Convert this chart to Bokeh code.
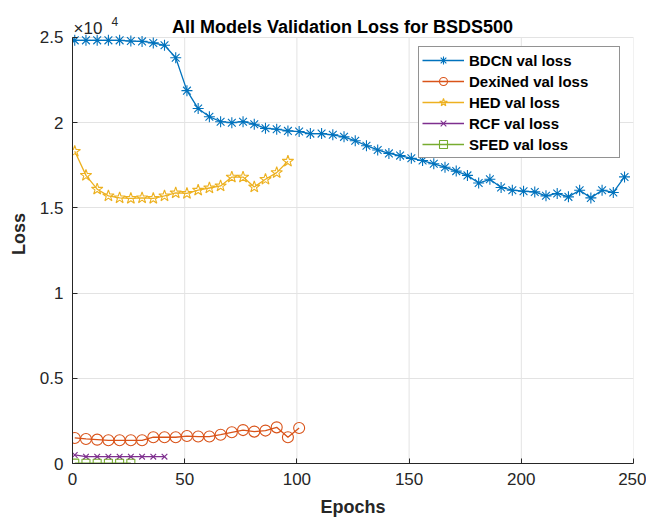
from bokeh.plotting import figure
from bokeh.models import Range1d, FixedTicker, Label, CustomJSTickFormatter
from bokeh.embed import file_html
from bokeh.resources import INLINE

# ---------------- data ----------------
bdcn_epochs = [1, 6, 11, 16, 21, 26, 31, 36, 41, 46, 51, 56, 61, 66, 71, 76, 81, 86, 91, 96,
               101, 106, 111, 116, 121, 126, 131, 136, 141, 146, 151, 156, 161, 166, 171, 176,
               181, 186, 191, 196, 201, 206, 211, 216, 221, 226, 231, 236, 241, 246]
bdcn_loss = [24820, 24820, 24820, 24820, 24820, 24780, 24760, 24670, 24530, 23800,
             21870, 20820, 20340, 20050, 19990, 20050, 19900, 19660, 19610, 19510,
             19470, 19350, 19350, 19280, 19160, 18930, 18640, 18390, 18190, 18060,
             17900, 17770, 17580, 17380, 17150, 16900, 16450, 16670, 16190, 16030,
             15970, 15930, 15700, 15840, 15640, 16030, 15580, 16030, 15900, 16810]

dexined_epochs = [1, 6, 11, 16, 21, 26, 31, 36, 41, 46, 51, 56, 61, 66, 71, 76, 81, 86, 91, 96, 101]
dexined_loss = [1500, 1440, 1400, 1360, 1360, 1360, 1360, 1540, 1540, 1540,
                1610, 1580, 1580, 1690, 1830, 1960, 1870, 1930, 2120, 1540, 2080]

hed_epochs = [1, 6, 11, 16, 21, 26, 31, 36, 41, 46, 51, 56, 61, 66, 71, 76, 81, 86, 91, 96]
hed_loss = [18310, 16900, 16090, 15700, 15580, 15550, 15580, 15550, 15700, 15870,
            15840, 16030, 16160, 16280, 16800, 16800, 16220, 16670, 17060, 17730]

rcf_epochs = [1, 6, 11, 16, 21, 26, 31, 36, 41]
rcf_loss = [500, 400, 400, 400, 400, 400, 400, 400, 400]

sfed_epochs = [1, 6, 11, 16, 21, 26]
sfed_loss = [20, 15, 15, 15, 15, 15]

x_ticks = [0, 50, 100, 150, 200, 250]
y_ticks = [0, 5000, 10000, 15000, 20000, 25000]
y_max = 25000

title_text = "All Models Validation Loss for BSDS500"
x_label = "Epochs"
y_label = "Loss"
exp_base = "\u00d710"
exp_power = "4"

# ---------------- layout / styling ----------------
FONT = "Liberation Sans"
AX = "#262626"
GRID = "#e3e3e3"
colors = {"BDCN": "#0072BD", "DexiNed": "#D95319", "HED": "#EDB120",
          "RCF": "#7E2F8E", "SFED": "#77AC30"}

W, H = 646, 519
TOP, BOTTOM, LEFT, RIGHT = 4, 53, 72, 13
frame_bottom = H - BOTTOM
axis_top_px = 37  # where 2.5e4 sits on the page
# extend the frame upward so the title and the exponent can be drawn inside it
y_end = y_max * (frame_bottom - TOP) / (frame_bottom - axis_top_px)

p = figure(width=W, height=H, title=None,
           x_range=Range1d(0, 250), y_range=Range1d(0, y_end),
           output_backend="svg", toolbar_location=None,
           min_border_left=LEFT, min_border_right=RIGHT,
           min_border_top=TOP, min_border_bottom=BOTTOM)

p.outline_line_color = None
p.background_fill_color = "white"
p.border_fill_color = "white"

for ax in (p.xaxis[0], p.yaxis[0]):
    ax.axis_line_color = AX
    ax.axis_line_width = 1
    ax.major_tick_line_color = AX
    ax.major_tick_in = 5
    ax.major_tick_out = 0
    ax.minor_tick_line_color = None
    ax.major_label_text_font = FONT
    ax.major_label_text_font_size = "17px"
    ax.major_label_text_color = AX
    ax.axis_label_text_font = FONT
    ax.axis_label_text_font_size = "18px"
    ax.axis_label_text_font_style = "bold"
    ax.axis_label_text_color = AX

p.xaxis.ticker = FixedTicker(ticks=x_ticks)
p.yaxis.ticker = FixedTicker(ticks=y_ticks)
p.yaxis.bounds = (0, y_max)
p.yaxis.formatter = CustomJSTickFormatter(code="return (tick/10000).toString();")
p.xaxis.axis_label = x_label
p.yaxis.axis_label = y_label
p.xaxis.major_label_standoff = 9
p.yaxis.major_label_standoff = 9
p.xaxis.axis_label_standoff = 9
p.yaxis.axis_label_standoff = 8

# horizontal grid from the Grid model; vertical grid drawn only up to 2.5e4
p.ygrid.grid_line_color = GRID
p.ygrid.ticker = FixedTicker(ticks=y_ticks)
p.xgrid.grid_line_color = None
p.segment(x0=x_ticks, y0=[0] * len(x_ticks), x1=x_ticks, y1=[y_max] * len(x_ticks),
          line_color=GRID, line_width=1, level="underlay")

series = [
    ("BDCN", bdcn_epochs, bdcn_loss, "asterisk", 11),
    ("DexiNed", dexined_epochs, dexined_loss, "circle", 11),
    ("HED", hed_epochs, hed_loss, "star", 12),
    ("RCF", rcf_epochs, rcf_loss, "x", 8),
    ("SFED", sfed_epochs, sfed_loss, "square", 8),
]
for name, xs, ys, marker, size in series:
    lbl = name + " val loss"
    c = colors[name]
    p.line(xs, ys, line_color=c, line_width=1.3, legend_label=lbl)
    p.scatter(xs, ys, marker=marker, size=size, line_color=c, fill_color=None,
              line_width=1.1, legend_label=lbl)

# title and exponent label (canvas coordinates, y measured from the top)
p.add_layout(Label(x=342, y=26, x_units="canvas", y_units="canvas", text=title_text,
                   text_font=FONT, text_font_size="18px", text_font_style="bold",
                   text_color="black", text_align="center", text_baseline="alphabetic"))
p.add_layout(Label(x=73, y=28, x_units="canvas", y_units="canvas", text=exp_base,
                   text_font=FONT, text_font_size="17px", text_color=AX,
                   text_baseline="alphabetic"))
p.add_layout(Label(x=111, y=21, x_units="canvas", y_units="canvas", text=exp_power,
                   text_font=FONT, text_font_size="12px", text_color=AX,
                   text_baseline="alphabetic"))

lg = p.legend[0]
lg.location = (346, 305)
lg.margin = 0
lg.padding = 3
lg.spacing = 1
lg.glyph_width = 42
lg.glyph_height = 20
lg.label_height = 20
lg.label_width = 147
lg.label_standoff = 5
lg.label_text_font = FONT
lg.label_text_font_size = "15px"
lg.label_text_font_style = "bold"
lg.label_text_color = "black"
lg.border_line_color = AX
lg.border_line_width = 1
lg.background_fill_color = "white"
lg.background_fill_alpha = 1.0

open("out.html", "w").write(file_html(p, INLINE))
